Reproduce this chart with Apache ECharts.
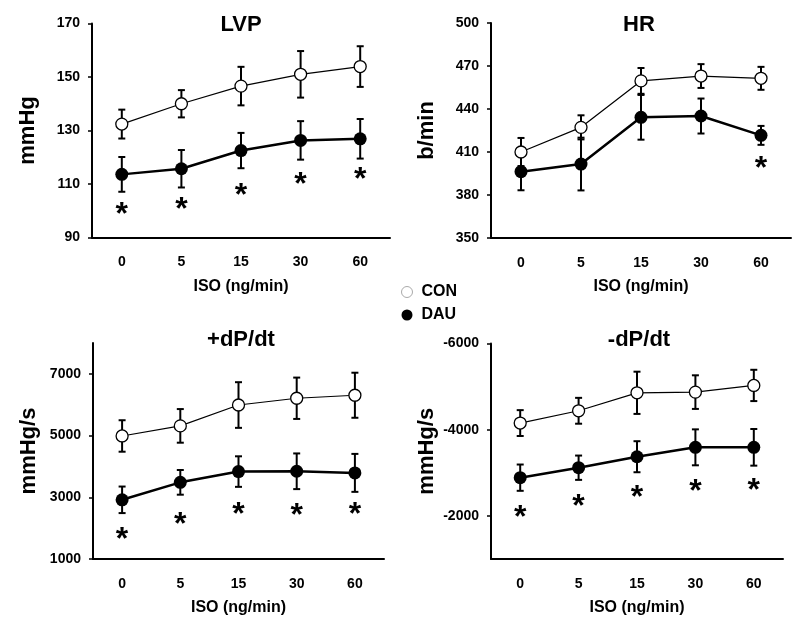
<!DOCTYPE html>
<html>
<head>
<meta charset="utf-8">
<script src="https://cdn.jsdelivr.net/npm/echarts@6/dist/echarts.min.js"></script>
<style>html,body{margin:0;padding:0;background:#fff;}#c{width:800px;height:627px;}</style>
</head>
<body>
<div id="c"></div>
<script>
const categories = ['0', '5', '15', '30', '60'];

const lvpCon = [132.4, 140.0, 146.6, 151.0, 153.9];
const lvpConErr = [5.4, 5.1, 7.2, 8.7, 7.6];
const lvpDau = [113.6, 115.7, 122.5, 126.3, 126.9];
const lvpDauErr = [6.5, 7.0, 6.6, 7.2, 7.4];
const lvpStar = [100.1, 102.0, 107.3, 111.3, 113.4];
const lvpTicks = [90, 110, 130, 150, 170];

const hrCon = [410.0, 427.2, 459.6, 463.0, 461.4];
const hrConErr = [9.8, 8.4, 9.0, 8.3, 8.0];
const hrDau = [396.3, 401.6, 434.2, 435.1, 421.6];
const hrDauErr = [13.0, 18.4, 15.6, 12.2, 6.6];
const hrStar = [null, null, null, null, 401.6];
const hrTicks = [350, 380, 410, 440, 470, 500];

const dpPlusCon = [4987, 5314, 5990, 6209, 6307];
const dpPlusConErr = [510, 545, 740, 670, 730];
const dpPlusDau = [2918, 3484, 3833, 3843, 3791];
const dpPlusDauErr = [430, 400, 495, 578, 615];
const dpPlusStar = [1774, 2265, 2591, 2559, 2591];
const dpPlusTicks = [1000, 3000, 5000, 7000];

const dpMinusCon = [-4154, -4439, -4856, -4872, -5027];
const dpMinusConErr = [300, 300, 490, 390, 363];
const dpMinusDau = [-2887, -3118, -3373, -3591, -3591];
const dpMinusDauErr = [305, 282, 360, 417, 425];
const dpMinusStar = [-2062, -2308, -2525, -2655, -2701];
const dpMinusTicks = [-6000, -4000, -2000];

const FONT = "'Liberation Sans', Arial, sans-serif";

const panels = [
  {title: 'LVP', yName: 'mmHg', con: lvpCon, conErr: lvpConErr, dau: lvpDau, dauErr: lvpDauErr, star: lvpStar, ticks: lvpTicks, min: 90, max: 170, inverse: false,
   grid: {left: 92, top: 23.5, width: 298, height: 214}, titlePos: [236, 9]},
  {title: 'HR', yName: 'b/min', con: hrCon, conErr: hrConErr, dau: hrDau, dauErr: hrDauErr, star: hrStar, ticks: hrTicks, min: 350, max: 500, inverse: false,
   grid: {left: 491, top: 23, width: 300, height: 215}, titlePos: [634, 9]},
  {title: '+dP/dt', yName: 'mmHg/s', con: dpPlusCon, conErr: dpPlusConErr, dau: dpPlusDau, dauErr: dpPlusDauErr, star: dpPlusStar, ticks: dpPlusTicks, min: 1000, max: 8000, inverse: false,
   grid: {left: 93, top: 343, width: 291, height: 216}, titlePos: [236, 324]},
  {title: '-dP/dt', yName: 'mmHg/s', con: dpMinusCon, conErr: dpMinusConErr, dau: dpMinusDau, dauErr: dpMinusDauErr, star: dpMinusStar, ticks: dpMinusTicks, min: -6000, max: -1000, inverse: true,
   grid: {left: 491, top: 343.5, width: 292, height: 215.5}, titlePos: [634, 324]}
];

function errRender(params, api) {
  const x = api.value(0);
  const lo = api.coord([x, api.value(1)]);
  const hi = api.coord([x, api.value(2)]);
  const w = 3.5;
  const st = {stroke: '#000', lineWidth: 2};
  return {type: 'group', children: [
    {type: 'line', shape: {x1: lo[0], y1: lo[1], x2: hi[0], y2: hi[1]}, style: st},
    {type: 'line', shape: {x1: lo[0] - w, y1: lo[1], x2: lo[0] + w, y2: lo[1]}, style: st},
    {type: 'line', shape: {x1: hi[0] - w, y1: hi[1], x2: hi[0] + w, y2: hi[1]}, style: st}
  ]};
}

const grids = [], xAxes = [], yAxes = [], series = [], titles = [];
panels.forEach((p, k) => {
  grids.push(p.grid);
  titles.push({text: p.title, left: p.titlePos[0], top: p.titlePos[1], textAlign: 'center',
    textStyle: {fontFamily: FONT, fontSize: 22, fontWeight: 'bold', color: '#000'}});
  xAxes.push({type: 'category', gridIndex: k, data: categories, boundaryGap: true,
    name: 'ISO (ng/min)', nameLocation: 'middle', nameGap: 41,
    nameTextStyle: {fontFamily: FONT, fontSize: 16, fontWeight: 'bold', color: '#000'},
    axisLine: {lineStyle: {color: '#000', width: 2}}, axisTick: {show: false},
    axisLabel: {fontFamily: FONT, fontSize: 14, fontWeight: 'bold', color: '#000', margin: 18},
    splitLine: {show: false}});
  yAxes.push({type: 'value', gridIndex: k, min: p.min, max: p.max, inverse: p.inverse,
    name: p.yName, nameLocation: 'middle', nameGap: 53, nameRotate: 90,
    nameTextStyle: {fontFamily: FONT, fontSize: 22, fontWeight: 'bold', color: '#000'},
    axisLine: {show: true, lineStyle: {color: '#000', width: 2}},
    axisTick: {show: true, inside: false, length: 4, lineStyle: {color: '#000', width: 1.5}, customValues: p.ticks},
    axisLabel: {fontFamily: FONT, fontSize: 14, fontWeight: 'bold', color: '#000', margin: 12, customValues: p.ticks,
      formatter: v => String(v)},
    splitLine: {show: false}});
  const errData = (vals, errs) => vals.map((v, i) => [i, v - errs[i], v + errs[i]]);
  series.push({type: 'custom', xAxisIndex: k, yAxisIndex: k, renderItem: errRender, data: errData(p.con, p.conErr), z: 1, silent: true});
  series.push({type: 'custom', xAxisIndex: k, yAxisIndex: k, renderItem: errRender, data: errData(p.dau, p.dauErr), z: 1, silent: true});
  series.push({name: 'CON', type: 'line', xAxisIndex: k, yAxisIndex: k, data: p.con, z: 3,
    symbol: 'circle', symbolSize: 12, showAllSymbol: true,
    lineStyle: {color: '#000', width: 1.2},
    itemStyle: {color: '#fff', borderColor: '#000', borderWidth: 1.3}});
  series.push({name: 'DAU', type: 'line', xAxisIndex: k, yAxisIndex: k, data: p.dau, z: 3,
    symbol: 'circle', symbolSize: 13, showAllSymbol: true,
    lineStyle: {color: '#000', width: 2.5},
    itemStyle: {color: '#000', borderColor: '#000', borderWidth: 0}});
  series.push({type: 'scatter', xAxisIndex: k, yAxisIndex: k, data: p.star.map(v => v === null ? '-' : v), z: 4,
    symbolSize: 1, itemStyle: {color: 'rgba(0,0,0,0)', opacity: 1}, silent: true,
    label: {show: true, position: 'inside', formatter: '*', fontFamily: FONT, fontSize: 32, fontWeight: 'bold',
      color: '#000', opacity: 1, textBorderWidth: 0, offset: [0, 5]}});
});

const chart = echarts.init(document.getElementById('c'), null, {renderer: 'canvas'});
chart.setOption({
  animation: false,
  backgroundColor: '#fff',
  title: titles,
  grid: grids,
  xAxis: xAxes,
  yAxis: yAxes,
  legend: {orient: 'vertical', left: 396, top: 279, itemWidth: 11, itemHeight: 11, itemGap: 7,
    textStyle: {fontFamily: FONT, fontSize: 16, fontWeight: 'bold', color: '#000', padding: [0, 0, 0, 4], lineHeight: 15},
    data: [
      {name: 'CON', icon: 'circle', itemStyle: {color: '#fff', borderColor: '#aaa', borderWidth: 1}},
      {name: 'DAU', icon: 'circle', itemStyle: {color: '#000', borderColor: '#000', borderWidth: 0}}
    ]},
  series: series
});
</script>
</body>
</html>
